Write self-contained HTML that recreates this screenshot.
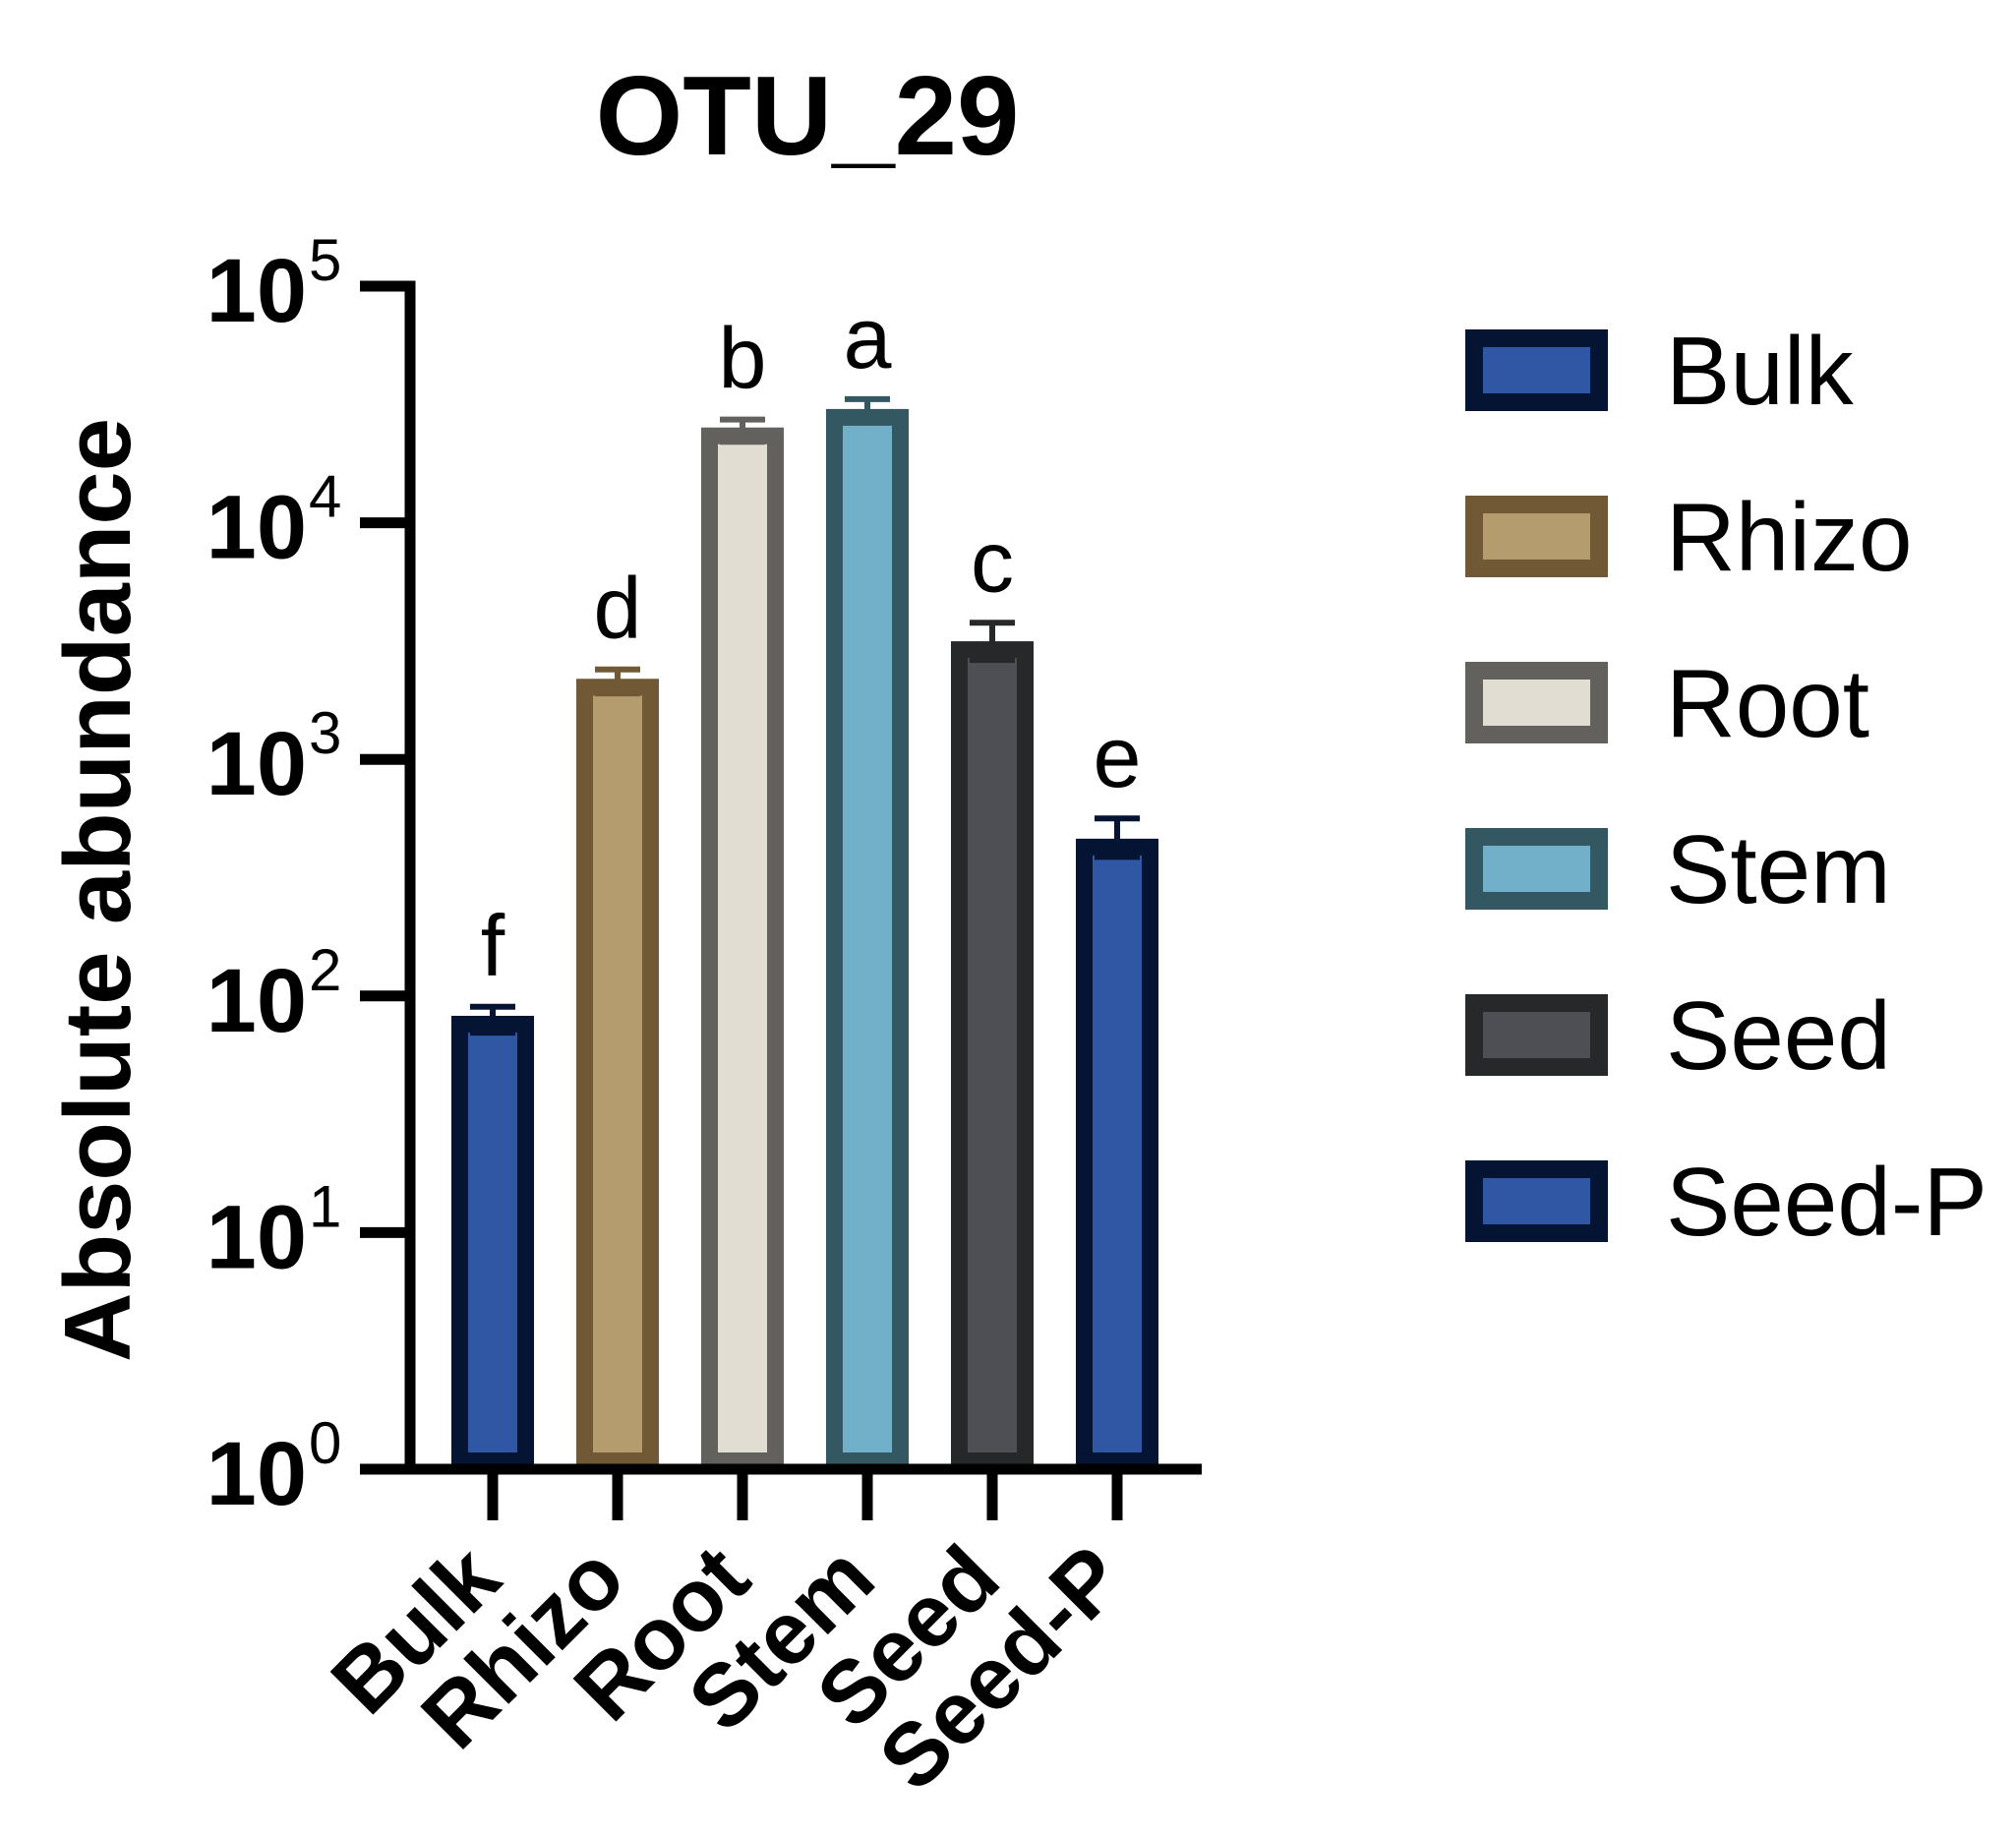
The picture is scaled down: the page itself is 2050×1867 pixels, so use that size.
<!DOCTYPE html>
<html><head><meta charset="utf-8"><style>
html,body{margin:0;padding:0;background:#fff}
svg{display:block}
text{font-family:"Liberation Sans",Arial,sans-serif}
</style></head><body>
<svg id="chart" width="2050" height="1867" viewBox="0 0 2050 1867" xmlns="http://www.w3.org/2000/svg">
<text x="821" y="157" text-anchor="middle" font-size="114" font-weight="bold">OTU_29</text>
<text transform="translate(132,905) rotate(-90)" text-anchor="middle" font-size="96" font-weight="bold" textLength="960" lengthAdjust="spacingAndGlyphs">Absolute abundance</text>
<g id="bars"></g>
<g id="axes"></g>
<g id="legend"></g>
</svg>
<script>
const categories = ["Bulk","Rhizo","Root","Stem","Seed","Seed-P"];
const values = [76, 2020, 23300, 27900, 2910, 426];
const errUpper = [90, 2400, 27300, 33300, 3780, 563];
const errLower = [70, 1900, 22000, 26500, 2630, 387];
const letters = ["f","d","b","a","c","e"];
const yTickExps = [0,1,2,3,4,5];
const fills = ["#2f57a3","#b59c6f","#e1ddd3","#72afc9","#4d4f54","#2f57a3"];
const strokes = ["#041432","#705934","#62615d","#345862","#27282a","#041432"];

const NS="http://www.w3.org/2000/svg";
const y0=1494, decade=240.6;
function yScale(v){return y0 - Math.log10(v)*decade;}
function xScale(i){return 501 + i*127;}
function mk(tag, attrs, parent){const e=document.createElementNS(NS,tag);for(const k in attrs)e.setAttribute(k,attrs[k]);parent.appendChild(e);return e;}

const bars=document.getElementById('bars');
const axes=document.getElementById('axes');
const legend=document.getElementById('legend');
const SW=17, BW=84;

categories.forEach((c,i)=>{
  const cx=xScale(i), yt=yScale(values[i]);
  const r=mk('rect',{x:cx-(BW-SW)/2,y:yt,width:BW-SW,height:Math.max(0,y0-SW/2-yt),fill:fills[i],stroke:strokes[i],'stroke-width':SW},bars);
  
  
  const yu=yScale(errUpper[i]), yl=yScale(errLower[i]);
  const eb=mk('path',{d:`M${cx} ${yt} V${yu} M${cx-23} ${yu} H${cx+23} M${cx} ${yt+SW/2} V${yl} M${cx-23} ${yl} H${cx+23}`,stroke:strokes[i],'stroke-width':6,fill:'none'},bars);
  
  
  const t=mk('text',{x:cx,y:yu-32,'text-anchor':'middle','font-size':88},bars);
  t.textContent=letters[i];
  
  
  const tk=mk('line',{x1:cx,y1:y0,x2:cx,y2:1546,stroke:'#000','stroke-width':11},axes);
  
  
  const xl=mk('text',{transform:`translate(${cx+12},${1610}) rotate(-45)`,'text-anchor':'end','font-size':90,'font-weight':'bold'},axes);
  xl.textContent=c;
  
  

  const ly=335+i*169;
  const lb=mk('rect',{x:1490+9,y:ly+9,width:145-18,height:83-18,fill:fills[i],stroke:strokes[i],'stroke-width':18},legend);
  
  
  const lt=mk('text',{x:1694,y:ly+76,'font-size':98},legend);
  lt.textContent=c;
  
  
});

const ya=mk('path',{d:`M366 ${yScale(1e5)} H417 V${y0}`,stroke:'#000','stroke-width':11,fill:'none'},axes);


const xa=mk('line',{x1:366,y1:y0,x2:1222,y2:y0,stroke:'#000','stroke-width':11},axes);


yTickExps.forEach(e=>{
  const y=yScale(Math.pow(10,e));
  const tk=mk('line',{x1:366,y1:y,x2:417,y2:y,stroke:'#000','stroke-width':11},axes);
  
  
  const t=mk('text',{x:312,y:y+36,'text-anchor':'end','font-size':92,'font-weight':'bold'},axes);
  t.textContent='10';
  
  
  const s=mk('text',{x:314,y:y-6,'font-size':60},axes);
  s.textContent=String(e);
  
  
});
</script>
</body></html>
